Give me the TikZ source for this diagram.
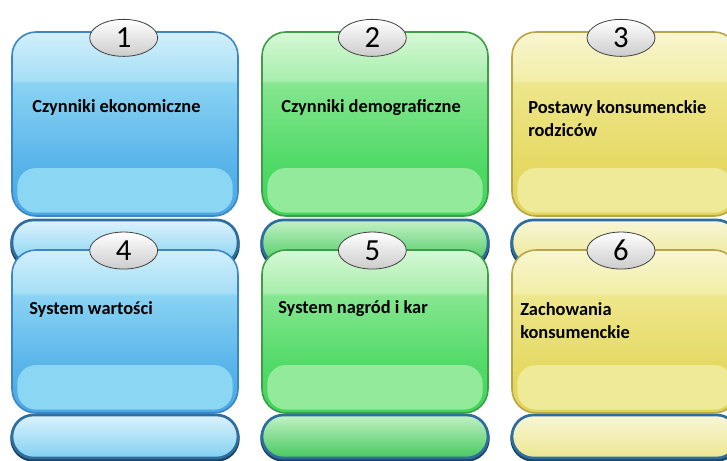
\documentclass[tikz,border=0pt]{standalone}
\usepackage{fontspec}
\setmainfont{Carlito}
\usetikzlibrary{shapes.geometric}

% box colours
\definecolor{topblue}{HTML}{D2EFFB}
\definecolor{glossblue}{HTML}{A6DFF6}
\definecolor{upblue}{HTML}{8AD3F3}
\definecolor{midblue}{HTML}{5AB5EA}
\definecolor{lowblue}{HTML}{4AA6E4}
\definecolor{bandblue}{HTML}{8AD6F3}
\definecolor{lineblue}{HTML}{3D86C6}
\definecolor{topgreen}{HTML}{D6F8D6}
\definecolor{glossgreen}{HTML}{A8EEAC}
\definecolor{upgreen}{HTML}{86E690}
\definecolor{midgreen}{HTML}{52DA68}
\definecolor{lowgreen}{HTML}{40D45A}
\definecolor{bandgreen}{HTML}{92EA9A}
\definecolor{linegreen}{HTML}{3E9E48}
\definecolor{topyellow}{HTML}{F8F6D0}
\definecolor{glossyellow}{HTML}{F2EEA8}
\definecolor{upyellow}{HTML}{EEE68C}
\definecolor{midyellow}{HTML}{E6DA66}
\definecolor{lowyellow}{HTML}{E2D458}
\definecolor{bandyellow}{HTML}{EFEA98}
\definecolor{lineyellow}{HTML}{B8A548}
% tab colours
\definecolor{tabtopblue}{HTML}{DDF3FC}
\definecolor{tabbotblue}{HTML}{82D0F2}
\definecolor{tabtopgreen}{HTML}{C4F2C6}
\definecolor{tabbotgreen}{HTML}{46C85E}
\definecolor{tabtopyellow}{HTML}{F8F7D8}
\definecolor{tabbotyellow}{HTML}{ECE690}
\definecolor{tabline}{HTML}{2E6E9E}
\definecolor{tabshadow}{HTML}{1C4466}

\pgfdeclareverticalshading{boxblue}{100bp}{color(0bp)=(lowblue); color(25bp)=(lowblue); color(40bp)=(midblue); color(61bp)=(upblue); color(62bp)=(glossblue); color(75bp)=(topblue); color(100bp)=(topblue)}
\pgfdeclareverticalshading{boxgreen}{100bp}{color(0bp)=(lowgreen); color(25bp)=(lowgreen); color(40bp)=(midgreen); color(61bp)=(upgreen); color(62bp)=(glossgreen); color(75bp)=(topgreen); color(100bp)=(topgreen)}
\pgfdeclareverticalshading{boxyellow}{100bp}{color(0bp)=(lowyellow); color(25bp)=(lowyellow); color(40bp)=(midyellow); color(61bp)=(upyellow); color(62bp)=(glossyellow); color(75bp)=(topyellow); color(100bp)=(topyellow)}

\begin{document}
\begin{tikzpicture}[
    x=0.75pt, y=-0.75pt,
    box/.style={draw=line#1, line width=1.2pt, rounded corners=18pt, shading=box#1, minimum width=169.5pt, minimum height=138pt, inner sep=0pt,
        path picture={\fill[band#1, rounded corners=14pt] ([xshift=4pt,yshift=2.5pt]path picture bounding box.south west) rectangle ([xshift=-4pt,yshift=36pt]path picture bounding box.south east);}},
    tab/.style={draw=tabline, line width=2pt, rounded corners=16pt, top color=tabtop#1, bottom color=tabbot#1, minimum width=169.5pt, minimum height=33.75pt, inner sep=0pt,
        preaction={draw=tabshadow, line width=2.6pt, transform canvas={yshift=-1.5pt}}},
    badge/.style={ellipse, draw=black!75, line width=0.6pt, top color=white, bottom color=gray!40, minimum width=51pt, minimum height=27.75pt, inner sep=0pt, font=\fontsize{23}{23}\selectfont},
    label/.style={anchor=west, align=left, inner sep=0pt, font=\bfseries\fontsize{13.8}{17.25}\selectfont}
]
    \useasboundingbox (0,0) rectangle (727,460);

    % tabs behind the boxes
    \node[tab=blue] (tab4) at (125,242.5) {};
    \node[tab=green] (tab5) at (375,242.5) {};
    \node[tab=yellow] (tab6) at (625,242.5) {};
    \node[tab=blue, minimum height=32.25pt] (tab7) at (125,436.5) {};
    \node[tab=green, minimum height=32.25pt] (tab8) at (375,436.5) {};
    \node[tab=yellow, minimum height=32.25pt] (tab9) at (625,436.5) {};

    % boxes
    \node[box=blue] (b1) at (125,124) {};
    \node[box=green] (b2) at (375,124) {};
    \node[box=yellow] (b3) at (625,124) {};
    \node[box=blue, minimum height=122.25pt] (b4) at (125,331.5) {};
    \node[box=green, minimum height=122.25pt] (b5) at (375,331.5) {};
    \node[box=yellow, minimum height=122.25pt] (b6) at (625,331.5) {};

    % numbers
    \node[badge] (n1) at ([xshift=-1pt,yshift=-5pt]b1.north) {1};
    \node[badge] (n2) at ([xshift=-2pt,yshift=-5pt]b2.north) {2};
    \node[badge] (n3) at ([xshift=-3pt,yshift=-5pt]b3.north) {3};
    \node[badge] (n4) at ([xshift=-1pt,yshift=-1pt]b4.north) {4};
    \node[badge] (n5) at ([xshift=-2pt,yshift=-1pt]b5.north) {5};
    \node[badge] (n6) at ([xshift=-3pt,yshift=-1pt]b6.north) {6};

    % texts
    \node[label] (t1) at (32,107.5) {Czynniki ekonomiczne};
    \node[label] (t2) at (281,107.5) {Czynniki demograficzne};
    \node[label] (t3) at (528,119) {Postawy konsumenckie\\rodziców};
    \node[label] (t4) at (29,309) {System wartości};
    \node[label] (t5) at (278,309) {System nagród i kar};
    \node[label] (t6) at (520,320.5) {Zachowania\\konsumenckie};
\end{tikzpicture}
\end{document}
